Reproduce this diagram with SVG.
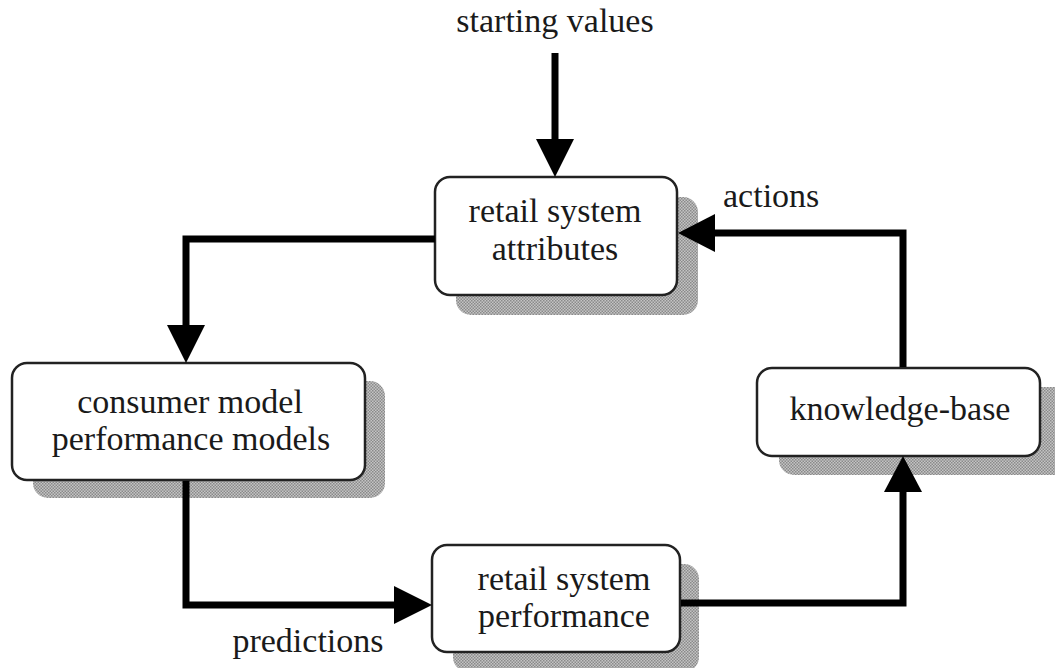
<svg xmlns="http://www.w3.org/2000/svg" width="1055" height="668" viewBox="0 0 1055 668">
<style>
text{font-family:"Liberation Serif","Times New Roman",serif;font-size:34px;fill:#1a1a1a}
.box{fill:#fff;stroke:#222;stroke-width:2.5}
.sh{fill:url(#dots)}
.conn{fill:none;stroke:#000;stroke-width:7;stroke-linejoin:miter}
.head{fill:#000}
</style>
<defs>
<pattern id="dots" width="3" height="3" patternUnits="userSpaceOnUse">
<rect width="3" height="3" fill="#c4c4c4"/>
<rect width="1.5" height="1.5" fill="#8a8a8a"/>
<rect x="1.5" y="1.5" width="1.5" height="1.5" fill="#8a8a8a"/>
</pattern>
</defs>
<rect width="1055" height="668" fill="#fff"/>
<g id="node-attributes">
<rect class="sh" x="456" y="197" width="242" height="118" rx="15"/>
<rect class="box" x="435" y="177" width="242" height="118" rx="15"/>
<text x="555" y="222" text-anchor="middle">retail system</text>
<text x="555" y="260" text-anchor="middle">attributes</text>
</g>
<g id="node-consumer">
<rect class="sh" x="33" y="381" width="352" height="117" rx="15"/>
<rect class="box" x="12" y="363" width="353" height="117" rx="15"/>
<text x="190" y="413" text-anchor="middle">consumer model</text>
<text x="191" y="450" text-anchor="middle">performance models</text>
</g>
<g id="node-knowledge">
<rect class="sh" x="779" y="387" width="290" height="88" rx="15"/>
<rect class="box" x="757" y="368" width="283" height="88" rx="15"/>
<text x="900" y="420" text-anchor="middle">knowledge-base</text>
</g>
<g id="node-performance">
<rect class="sh" x="453" y="564" width="246" height="108" rx="15"/>
<rect class="box" x="432" y="545" width="248" height="107" rx="15"/>
<text x="564" y="590" text-anchor="middle">retail system</text>
<text x="564" y="627" text-anchor="middle">performance</text>
</g>
<g id="connectors">
<path class="conn" d="M555 53 V141"/>
<polygon class="head" points="536,139 574,139 555,177"/>
<path class="conn" d="M435 239 H186 V328"/>
<polygon class="head" points="167,325 205,325 186,363"/>
<path class="conn" d="M186 481 V605 H396"/>
<polygon class="head" points="394,586 394,624 432,605"/>
<path class="conn" d="M681 603 H903 V490"/>
<polygon class="head" points="884,492 922,492 903,456"/>
<path class="conn" d="M903 367 V233 H712"/>
<polygon class="head" points="715,214 715,252 678,233"/>
<text x="555" y="32" text-anchor="middle">starting values</text>
<text x="723" y="207">actions</text>
<text x="308" y="652" text-anchor="middle">predictions</text>
</g>
</svg>
